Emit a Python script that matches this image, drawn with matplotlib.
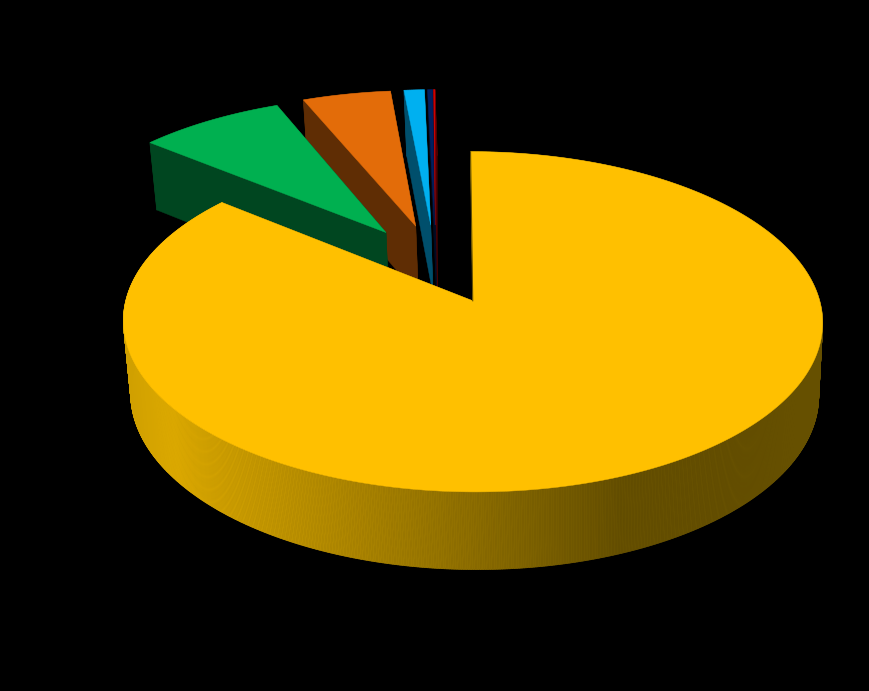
import numpy as np
import matplotlib
matplotlib.use("Agg")
import matplotlib.pyplot as plt
from matplotlib.collections import PolyCollection
from matplotlib.colors import LinearSegmentedColormap

# share of each slice, clockwise from just left of 12 o'clock
values = [86.01, 7.83, 4.72, 1.09, 0.27, 0.08]
top_colors = ["#FFC000", "#00B050", "#E36C09", "#00B0F0", "#002060", "#D00000"]
side_colors = ["#665000", "#004620", "#5F2D04", "#004F6C", "#000D26", "#4D0000"]

# pie plane units are pixels at s = 1, v points away from the viewer
start_angle = -0.4
explode = 88
center = (-18, 80)
cam_dist = 2830
radii = [(347, 350), (352, 354), (355, 355), (355, 355), (355, 355), (355, 355)]

# wall colour of the big slice, left to right on the screen
wall_cmap = LinearSegmentedColormap.from_list(
    "wall", [(0, "#D0A000"), (0.08, "#DCA900"), (0.83, "#665000"), (1, "#665000")])


def project(u, v, bottom=False):
    s = cam_dist / (cam_dist + v)
    if bottom:
        return 455 + u * s * 0.984, 373 + 1395 * (s - 1)
    return 453 + u * s, 301 + 1355 * (s - 1)


def draw_slice(ax, a0, a1, color, side, radius, shaded=False):
    mid = np.radians((a0 + a1) / 2)
    cu = center[0] + explode * np.sin(mid)
    cv = center[1] + explode * np.cos(mid)
    t = np.radians(np.linspace(a0, a1, max(int(a1 - a0) * 4, 8)))
    u = cu + radius[0] * np.sin(t)
    v = cv + radius[1] * np.cos(t)

    tx, ty = project(u, v)
    bx, by = project(u, v, bottom=True)
    ax_t, ay_t = project(cu, cv)
    ax_b, ay_b = project(cu, cv, bottom=True)

    # cut faces first
    first = [(ax_t, ay_t), (tx[0], ty[0]), (bx[0], by[0]), (ax_b, ay_b)]
    last = [(ax_t, ay_t), (tx[-1], ty[-1]), (bx[-1], by[-1]), (ax_b, ay_b)]
    for face in [first, last]:
        ax.fill(*zip(*face), color=side, lw=0.3, zorder=2)

    # outer wall, split up so it can be shaded
    quads = [[(tx[i], ty[i]), (tx[i + 1], ty[i + 1]), (bx[i + 1], by[i + 1]), (bx[i], by[i])]
             for i in range(len(t) - 1)]
    if shaded:
        cols = [wall_cmap(np.clip((q[0][0] - 124) / 600, 0, 1)) for q in quads]
    else:
        cols = [side] * len(quads)
    ax.add_collection(PolyCollection(quads, facecolors=cols, edgecolors=cols, linewidths=0.5, zorder=2))

    ax.fill(np.r_[ax_t, tx], np.r_[ay_t, ty], color=color, lw=0.3, zorder=3)

    # the big slice shows a thin dark edge along its straight side at the back
    if shaded:
        ax.plot([ax_t, tx[0]], [ay_t, ty[0]], color=side, lw=0.8, zorder=4)


fig = plt.figure(figsize=(8.7, 6.91), dpi=100, facecolor="black")
ax = fig.add_axes([0, 0, 1, 1])
ax.set_xlim(0, 870)
ax.set_ylim(691, 0)
ax.axis("off")

angles = start_angle + np.cumsum([0] + values) / sum(values) * 360
angles[0] = 0  # big slice starts right at 12 o'clock
# painter's order: thin slices at the back first, the big one last
for i in range(len(values) - 1, -1, -1):
    draw_slice(ax, angles[i], angles[i + 1], top_colors[i], side_colors[i], radii[i], shaded=(i == 0))

fig.savefig("out.png", dpi=100, facecolor="black")
